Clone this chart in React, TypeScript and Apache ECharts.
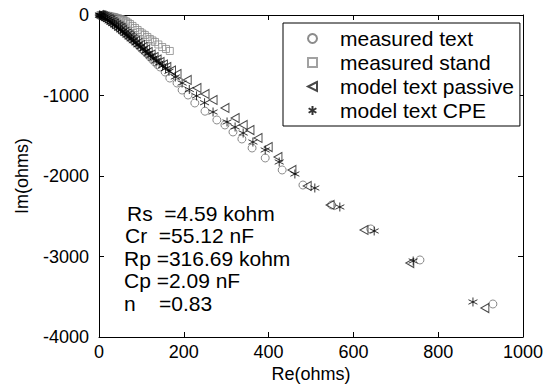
import React, { useEffect, useRef } from "react";
import * as echarts from "echarts";

// Re(ohms), Im(ohms) pairs
const measuredText: [number, number][] = [
  [2, -2], [5, -8], [7, -15], [12, -27], [17, -40], [22, -58], [26, -78], [31, -96], [35, -115],
  [40, -133], [45, -152], [50, -176], [54, -200], [59, -219], [64, -238], [68, -262],
  [73, -286], [78, -305], [83, -325], [87, -348], [92, -372], [97, -396], [101, -420],
  [106, -445], [111, -470], [116, -495], [120, -520], [126, -552], [132, -584], [138, -615],
  [144, -646], [156, -708], [167, -783], [184, -845], [196, -932], [210, -994], [226, -1093],
  [250, -1195], [278, -1304], [297, -1366], [316, -1453], [337, -1540], [361, -1652],
  [392, -1776], [432, -1925], [481, -2112], [549, -2360], [641, -2658], [757, -3043], [929, -3590],
];

const measuredStand: [number, number][] = [
  [3, -2], [5, -2], [7, -3], [10, -4], [14, -6], [17, -8], [21, -10], [24, -14], [28, -19],
  [31, -22], [35, -25], [38, -31], [42, -37], [46, -43], [50, -50], [53, -56], [57, -62],
  [60, -71], [64, -81], [68, -96], [73, -112], [79, -136], [85, -161], [91, -186], [97, -211],
  [102, -230], [108, -248], [114, -273], [120, -298], [126, -316], [132, -335], [140, -366],
  [149, -398], [158, -422], [167, -447],
];

const modelPassive: [number, number][] = [
  [1, -1], [3, -3], [5, -5], [7, -8], [10, -16], [14, -25], [19, -37], [24, -50], [28, -68],
  [33, -87], [37, -105], [42, -124], [47, -142], [52, -161], [56, -186], [61, -211], [66, -230],
  [71, -248], [75, -273], [80, -298], [86, -323], [92, -348], [98, -373], [104, -398],
  [110, -429], [116, -460], [123, -491], [130, -522], [137, -553], [144, -584], [152, -615],
  [160, -646], [171, -690], [184, -733], [208, -807], [231, -907], [250, -981], [269, -1056],
  [297, -1155], [321, -1280], [340, -1366], [356, -1429], [375, -1528], [399, -1640],
  [422, -1764], [455, -1925], [491, -2124], [545, -2360], [625, -2671], [733, -3081], [910, -3640],
];

const modelCPE: [number, number][] = [
  [1, -1], [2, -3], [4, -7], [6, -12], [9, -21], [12, -30], [16, -44], [20, -58], [24, -74],
  [28, -90], [32, -107], [37, -125], [41, -145], [46, -165], [51, -185], [56, -205], [61, -228],
  [66, -250], [71, -272], [76, -295], [81, -320], [87, -345], [92, -370], [98, -395],
  [104, -422], [110, -450], [116, -477], [122, -505], [128, -535], [135, -565], [142, -597],
  [150, -630], [157, -665], [165, -700], [180, -770], [196, -845], [213, -925], [230, -1005],
  [249, -1090], [269, -1205], [302, -1329], [321, -1391], [340, -1466], [363, -1578],
  [392, -1677], [425, -1826], [462, -1975], [509, -2149], [568, -2385], [649, -2683],
  [741, -3056], [882, -3565],
];

const seriesNames = ["measured text", "measured stand", "model text passive", "model text CPE"];
const paramLines = ["Rs  =4.59 kohm", "Cr  =55.12 nF", "Rp =316.69 kohm", "Cp =2.09 nF", "n    =0.83"];
const xName = "Re(ohms)";
const yName = "Im(ohms)";

const FONT = "Liberation Sans, Arial, Helvetica, sans-serif";

export default function App() {
  const ref = useRef<HTMLDivElement>(null);
  useEffect(() => {
    if (!ref.current) return;
    const chart = echarts.init(ref.current, undefined, { renderer: "svg" });
    const tick = { show: true, inside: true, length: 5, lineStyle: { color: "#000", width: 1 } };
    const line = { show: true, onZero: false, lineStyle: { color: "#000", width: 1 } };
    const fmt = (v: number) => String(v);
    const paramX = [127, 125, 124, 124, 124];
    chart.setOption({
      animation: false,
      backgroundColor: "#fff",
      grid: { left: 99, right: 30, top: 15, bottom: 48, containLabel: false },
      legend: {
        orient: "vertical",
        left: 283,
        top: 23,
        data: seriesNames,
        itemWidth: 9,
        itemHeight: 9,
        itemGap: 3,
        padding: [5, 6, 5, 24],
        borderColor: "#000",
        borderWidth: 1,
        backgroundColor: "#fff",
        textStyle: { fontSize: 21, fontFamily: FONT, color: "#000", lineHeight: 20, padding: [0, 0, 0, 18] },
      },
      xAxis: [
        {
          type: "value", min: 0, max: 1000, interval: 200, position: "bottom",
          axisLine: line, axisTick: tick, splitLine: { show: false },
          axisLabel: { fontSize: 18, fontFamily: FONT, color: "#000", margin: 6, formatter: fmt },
        },
        {
          type: "value", min: 0, max: 1000, interval: 200, position: "top",
          axisLine: line, axisTick: tick, splitLine: { show: false }, axisLabel: { show: false },
        },
      ],
      yAxis: [
        {
          type: "value", min: -4000, max: 0, interval: 1000, position: "left",
          axisLine: line, axisTick: tick, splitLine: { show: false },
          axisLabel: { fontSize: 18, fontFamily: FONT, color: "#000", margin: 10, formatter: fmt },
        },
        {
          type: "value", min: -4000, max: 0, interval: 1000, position: "right",
          axisLine: line, axisTick: tick, splitLine: { show: false }, axisLabel: { show: false },
        },
      ],
      series: [
        {
          name: seriesNames[0], type: "scatter", data: measuredText, symbol: "circle", symbolSize: 8,
          itemStyle: { color: "transparent", borderColor: "#6e6e6e", borderWidth: 1 },
        },
        {
          name: seriesNames[1], type: "scatter", data: measuredStand, symbol: "rect", symbolSize: 7,
          itemStyle: { color: "transparent", borderColor: "#8a8a8a", borderWidth: 1 },
        },
        {
          name: seriesNames[2], type: "scatter", data: modelPassive,
          symbol: "path://M10,0L0,5L10,10Z", symbolSize: [8, 9],
          itemStyle: { color: "transparent", borderColor: "#1a1a1a", borderWidth: 1 },
        },
        {
          name: seriesNames[3], type: "scatter", data: modelCPE,
          symbol: "path://M5,0L5,10M0.7,2.5L9.3,7.5M0.7,7.5L9.3,2.5", symbolSize: 9,
          itemStyle: { color: "transparent", borderColor: "#000", borderWidth: 1 },
        },
      ],
      graphic: [
        ...paramLines.map((t, i) => ({
          type: "text", x: paramX[i], y: 213 + i * 22.5,
          style: { text: t, fontSize: 21, lineHeight: 21, fontFamily: FONT, fill: "#000", verticalAlign: "middle", align: "left" },
        })),
        {
          type: "text", x: 311, y: 374,
          style: { text: xName, fontSize: 18, fontFamily: FONT, fill: "#000", align: "center", verticalAlign: "middle" },
        },
        {
          type: "text", x: 22, y: 176, rotation: Math.PI / 2,
          style: { text: yName, fontSize: 18, fontFamily: FONT, fill: "#000", align: "center", verticalAlign: "middle" },
        },
      ],
    });
    return () => chart.dispose();
  }, []);
  return <div ref={ref} style={{ position: "fixed", left: 0, top: 0, width: 553, height: 385 }} />;
}
